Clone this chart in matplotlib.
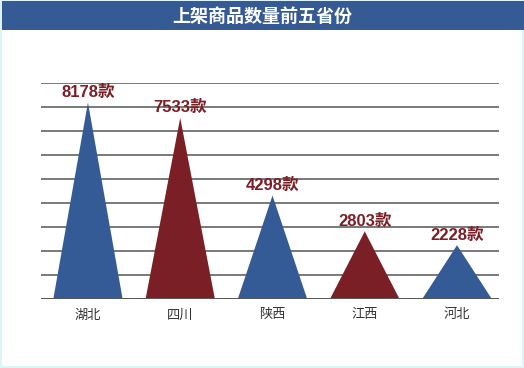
import matplotlib
matplotlib.use("Agg")
import matplotlib.pyplot as plt
from matplotlib.patches import Rectangle

plt.rcParams['font.family'] = ['Noto Sans CJK SC', 'DejaVu Sans']

title = "上架商品数量前五省份"
provinces = ["湖北", "四川", "陕西", "江西", "河北"]
values = [8178, 7533, 4298, 2803, 2228]
unit = "款"
colors = ["#345b95", "#7a1f26", "#345b95", "#7a1f26", "#345b95"]

W, H = 524, 368
fig = plt.figure(figsize=(W / 100, H / 100), dpi=100)
fig.patch.set_facecolor("white")

# light frame
fig.add_artist(Rectangle((0, 0), 1, 1, transform=fig.transFigure,
                         facecolor="none", edgecolor="#dff3fb", lw=3, zorder=0))
# title bar
fig.add_artist(Rectangle((0.004, 1 - 30 / H), 0.996, 29 / H, transform=fig.transFigure,
                         facecolor="#365b94", edgecolor="none", zorder=1))
fig.text(262 / W, 1 - 16 / H, title, color="white", fontsize=13, fontweight="bold",
         ha="center", va="center")

left, right = 41 / W, 499 / W
bottom = (H - 298.7) / H
top = (H - 82.7) / H
ax = fig.add_axes([left, bottom, right - left, top - bottom])
ax.set_xlim(-0.509, 4.455)
ax.set_ylim(0, 9000)
for s in ax.spines.values():
    s.set_visible(False)
ax.set_yticks([])
ax.set_xticks(range(len(provinces)))
ax.set_xticklabels(provinces, fontsize=9.5, color="#333333", fontweight="medium")
ax.tick_params(axis="x", length=0, pad=7)

for yv in range(1000, 9001, 1000):
    ax.axhline(yv, color="#555555", lw=1.1, zorder=1)
ax.axhline(0, color="#555555", lw=1.4, zorder=3)

hw = 0.375
for i, (v, c) in enumerate(zip(values, colors)):
    ax.fill([i - hw, i, i + hw], [0, v, 0], color=c, lw=0, zorder=2)
    ax.annotate(f"{v}{unit}", (i, v), xytext=(0, 2), textcoords="offset points",
                ha="center", va="bottom", fontsize=12, fontweight="bold",
                family=["Liberation Sans", "Noto Sans CJK SC"],
                color="#7a1f26", zorder=4)

fig.savefig("out.png", dpi=100, facecolor="white")
